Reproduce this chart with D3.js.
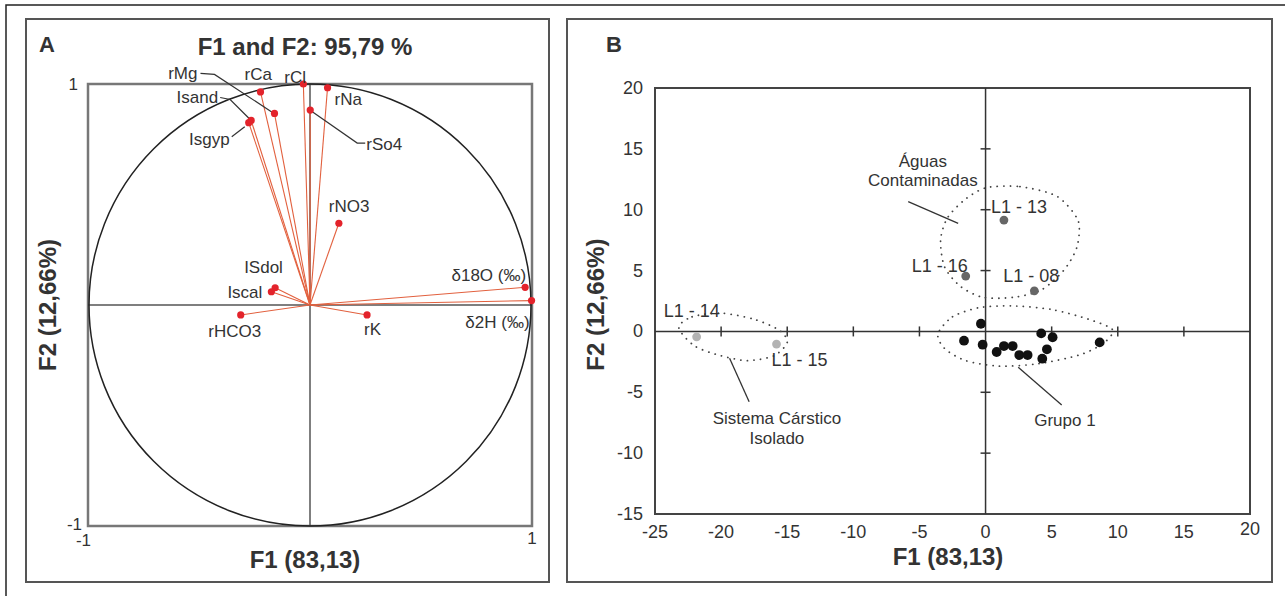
<!DOCTYPE html>
<html>
<head>
<meta charset="utf-8">
<script src="https://cdn.jsdelivr.net/npm/d3@7"></script>
<style>
	body { margin: 0; background: #fff; }
	text { font-family: "Liberation Sans", Arial, sans-serif; fill: #333; }
</style>
</head>
<body>
<div id="chart"></div>
<script>
// panel A: loadings on F1/F2
const varNames = ["rMg", "rCa", "rCl", "Isand", "Isgyp", "rNa", "rSo4", "rNO3", "ISdol", "Iscal", "δ18O (‰)", "δ2H (‰)", "rHCO3", "rK"];
const varF1 = [-0.16, -0.223, -0.03, -0.265, -0.276, 0.079, 0.001, 0.13, -0.157, -0.174, 0.969, 0.998, -0.312, 0.257];
const varF2 = [0.867, 0.964, 1.0, 0.835, 0.825, 0.983, 0.882, 0.37, 0.078, 0.06, 0.08, 0.02, -0.045, -0.045];
const aTicks = [-1, 1];

// panel B: sample scores
const grupo1F1 = [-0.35, -1.63, -0.22, 0.84, 1.39, 2.05, 2.55, 3.18, 4.21, 5.07, 4.64, 4.29, 8.63];
const grupo1F2 = [0.63, -0.76, -1.09, -1.69, -1.2, -1.2, -1.94, -1.94, -0.16, -0.48, -1.47, -2.24, -0.9];
const contamNames = ["L1 - 13", "L1 - 16", "L1 - 08"];
const contamF1 = [1.39, -1.5, 3.69];
const contamF2 = [9.15, 4.55, 3.34];
const carstNames = ["L1 - 14", "L1 - 15"];
const carstF1 = [-21.85, -15.81];
const carstF2 = [-0.44, -1.04];
const bXTicks = [-25, -20, -15, -10, -5, 0, 5, 10, 15, 20];
const bYTicks = [-15, -10, -5, 0, 5, 10, 15, 20];

// group outlines (F1, F2)
const aguasOutline = [[0.03, 11.8], [2.6, 11.9], [5.4, 11.1], [7.0, 9.1], [6.9, 6.9], [5.9, 5.0], [4.2, 3.4], [2.1, 2.8], [-0.2, 2.8], [-1.9, 3.7], [-3.1, 5.3], [-3.4, 7.5], [-2.9, 9.3], [-1.6, 10.8]];
const grupoOutline = [[-3.6, -0.2], [-2.5, 1.2], [-0.5, 1.95], [2.0, 2.1], [5.0, 1.8], [7.8, 1.0], [9.6, 0.15], [9.0, -0.9], [7.2, -1.9], [4.0, -2.65], [1.0, -2.85], [-1.5, -2.4], [-3.1, -1.4]];
const carstOutline = [[-23.2, 0.3], [-22.2, 1.2], [-20.0, 1.5], [-17.5, 1.0], [-15.6, 0.1], [-15.0, -0.9], [-16.0, -2.0], [-18.0, -2.4], [-20.0, -2.0], [-22.0, -1.2]];

const W = 1285, H = 596;

const svg = d3.select("#chart").append("svg").attr("width", W).attr("height", H);

// frames
svg.append("path").attr("d", `M6,${H + 5}V5H${W + 5}`).attr("fill", "none").attr("stroke", "#222").attr("stroke-width", 1.5);
svg.append("rect").attr("x", 26).attr("y", 19).attr("width", 523).attr("height", 563)
	.attr("fill", "none").attr("stroke", "#555").attr("stroke-width", 2);
svg.append("rect").attr("x", 567).attr("y", 19).attr("width", 705).attr("height", 563)
	.attr("fill", "none").attr("stroke", "#555").attr("stroke-width", 2);

// ---------- panel A ----------
const xA = d3.scaleLinear().domain([-1, 1]).range([88, 532]);
const yA = d3.scaleLinear().domain([-1, 1]).range([526, 84]);
const gA = svg.append("g");

gA.append("rect").attr("x", xA(-1)).attr("y", yA(1)).attr("width", xA(1) - xA(-1)).attr("height", yA(-1) - yA(1))
	.attr("fill", "none").attr("stroke", "#777").attr("stroke-width", 2.5);
gA.append("line").attr("x1", xA(-1)).attr("x2", xA(1)).attr("y1", yA(0)).attr("y2", yA(0)).attr("stroke", "#555").attr("stroke-width", 1.5);
gA.append("line").attr("x1", xA(0)).attr("x2", xA(0)).attr("y1", yA(1)).attr("y2", yA(-1)).attr("stroke", "#555").attr("stroke-width", 1.5);
gA.append("ellipse").attr("cx", xA(0)).attr("cy", yA(0))
	.attr("rx", xA(1) - xA(0) - 1).attr("ry", yA(-1) - yA(0))
	.attr("fill", "none").attr("stroke", "#222").attr("stroke-width", 1.5);

const loadings = varNames.map((n, i) => ({ name: n, x: varF1[i], y: varF2[i] }));

// label placement relative to each point: [dx, dy, anchor], plus optional leader
const aLabel = {
	"rMg": [-77, -34, "end", [[-74, -40], [-60, -39], [-2, -1]]],
	"rCa": [-16, -12, "start"],
	"rCl": [-19, -1, "start"],
	"Isand": [-33, -17, "end", [[-31, -23], [-21, -21], [-1, -1]]],
	"Isgyp": [-19, 22, "end", [[-17, 14], [-4, 4]]],
	"rNa": [7, 17, "start"],
	"rSo4": [56, 40, "start", [[1, 1], [47, 33], [55, 33]]],
	"rNO3": [-10, -11, "start"],
	"ISdol": [-31, -15, "start"],
	"Iscal": [-9, 6, "end"],
	"δ18O (‰)": [1, -6, "end"],
	"δ2H (‰)": [-2, 27, "end"],
	"rHCO3": [-6, 22, "middle"],
	"rK": [-3, 20, "start"]
};

gA.selectAll("line.vec").data(loadings).enter().append("line").attr("class", "vec")
	.attr("x1", xA(0)).attr("y1", yA(0))
	.attr("x2", (d) => xA(d.x)).attr("y2", (d) => yA(d.y))
	.attr("stroke", "#e2603e").attr("stroke-width", 1.1);

gA.selectAll("path.leader").data(loadings.filter((d) => aLabel[d.name][3])).enter().append("path").attr("class", "leader")
	.attr("d", (d) => d3.line()(aLabel[d.name][3].map((p) => [xA(d.x) + p[0], yA(d.y) + p[1]])))
	.attr("fill", "none").attr("stroke", "#333").attr("stroke-width", 1.2);

gA.selectAll("circle.pt").data(loadings).enter().append("circle").attr("class", "pt")
	.attr("cx", (d) => xA(d.x)).attr("cy", (d) => yA(d.y)).attr("r", 3.6).attr("fill", "#e3232b");

gA.selectAll("text.lab").data(loadings).enter().append("text").attr("class", "lab")
	.attr("x", (d) => xA(d.x) + aLabel[d.name][0])
	.attr("y", (d) => yA(d.y) + aLabel[d.name][1])
	.attr("text-anchor", (d) => aLabel[d.name][2])
	.style("font-size", "17px")
	.text((d) => d.name);

// ticks A
gA.append("text").attr("x", xA(-1) - 10).attr("y", yA(1) + 6).attr("text-anchor", "end").style("font-size", "17px").text(aTicks[1]);
gA.append("text").attr("x", xA(-1) - 6).attr("y", yA(-1) + 4).attr("text-anchor", "end").style("font-size", "17px").text(aTicks[0]);
gA.append("text").attr("x", xA(-1) + 3).attr("y", yA(-1) + 20).attr("text-anchor", "end").style("font-size", "17px").text(aTicks[0]);
gA.append("text").attr("x", xA(1)).attr("y", yA(-1) + 18).attr("text-anchor", "middle").style("font-size", "17px").text(aTicks[1]);

gA.append("text").attr("x", 39).attr("y", 52).style("font-size", "22px").style("font-weight", "bold").text("A");
gA.append("text").attr("x", 305).attr("y", 55).attr("text-anchor", "middle")
	.style("font-size", "24px").style("font-weight", "bold").text("F1 and F2: 95,79 %");
gA.append("text").attr("x", 305).attr("y", 568).attr("text-anchor", "middle")
	.style("font-size", "24px").style("font-weight", "bold").text("F1 (83,13)");
gA.append("text").attr("transform", `translate(56,${yA(0)}) rotate(-90)`).attr("text-anchor", "middle")
	.style("font-size", "24px").style("font-weight", "bold").text("F2 (12,66%)");

// ---------- panel B ----------
const xB = d3.scaleLinear().domain([-25, 20]).range([655, 1250]);
const yB = d3.scaleLinear().domain([-15, 20]).range([514, 88]);
const gB = svg.append("g");

gB.append("rect").attr("x", xB(-25)).attr("y", yB(20)).attr("width", xB(20) - xB(-25)).attr("height", yB(-15) - yB(20))
	.attr("fill", "none").attr("stroke", "#444").attr("stroke-width", 2);
gB.append("line").attr("x1", xB(-25)).attr("x2", xB(20)).attr("y1", yB(0)).attr("y2", yB(0)).attr("stroke", "#333").attr("stroke-width", 1.5);
gB.append("line").attr("x1", xB(0)).attr("x2", xB(0)).attr("y1", yB(20)).attr("y2", yB(-15)).attr("stroke", "#333").attr("stroke-width", 1.5);

// small crossing ticks on the zero axes
gB.selectAll("line.xt").data(bXTicks.filter((t) => t !== 0 && t > -25 && t < 20)).enter().append("line").attr("class", "xt")
	.attr("x1", (d) => xB(d)).attr("x2", (d) => xB(d)).attr("y1", yB(0) - 5).attr("y2", yB(0) + 5)
	.attr("stroke", "#333").attr("stroke-width", 1.5);
gB.selectAll("line.yt").data(bYTicks.filter((t) => t !== 0 && t > -15 && t < 20)).enter().append("line").attr("class", "yt")
	.attr("x1", xB(0) - 5).attr("x2", xB(0) + 5).attr("y1", (d) => yB(d)).attr("y2", (d) => yB(d))
	.attr("stroke", "#333").attr("stroke-width", 1.5);

gB.selectAll("text.xl").data(bXTicks).enter().append("text").attr("class", "xl")
	.attr("x", (d) => xB(d)).attr("y", (d) => (d === 20 ? yB(-15) + 21 : yB(-15) + 24))
	.attr("text-anchor", "middle").style("font-size", "18px").text((d) => d);
gB.selectAll("text.yl").data(bYTicks).enter().append("text").attr("class", "yl")
	.attr("x", xB(-25) - 12).attr("y", (d) => yB(d) + 6)
	.attr("text-anchor", "end").style("font-size", "18px").text((d) => d);

// group outlines
const outline = d3.line().x((d) => xB(d[0])).y((d) => yB(d[1])).curve(d3.curveCardinalClosed.tension(0.2));
[aguasOutline, grupoOutline, carstOutline].forEach((o) => {
	gB.append("path").attr("d", outline(o)).attr("fill", "none")
		.attr("stroke", "#444").attr("stroke-width", 1.8).attr("stroke-linecap", "round")
		.attr("stroke-dasharray", "0.1,6.5");
});

// annotation leaders
const leaders = [
	[[-5.85, 10.66], [-2.07, 8.88]],
	[[-19.36, -2.21], [-17.88, -5.78]],
	[[2.47, -2.95], [5.76, -6.05]]
];
gB.selectAll("path.ann").data(leaders).enter().append("path").attr("class", "ann")
	.attr("d", (d) => d3.line()(d.map((p) => [xB(p[0]), yB(p[1])])))
	.attr("stroke", "#333").attr("stroke-width", 1.3);

const groupText = [
	{ lines: ["Águas", "Contaminadas"], x: -4.74, y: 13.53 },
	{ lines: ["Sistema Cárstico", "Isolado"], x: -15.78, y: -7.61 },
	{ lines: ["Grupo 1"], x: 6.0, y: -7.77 }
];
groupText.forEach((g) => {
	const t = gB.append("text").attr("text-anchor", "middle").style("font-size", "17px");
	g.lines.forEach((l, i) => {
		t.append("tspan").attr("x", xB(g.x)).attr("y", yB(g.y) + i * 19.5).text(l);
	});
});

// points
const grupo1 = grupo1F1.map((v, i) => ({ x: v, y: grupo1F2[i] }));
const contam = contamNames.map((n, i) => ({ name: n, x: contamF1[i], y: contamF2[i] }));
const carst = carstNames.map((n, i) => ({ name: n, x: carstF1[i], y: carstF2[i] }));

gB.selectAll("circle.g1").data(grupo1).enter().append("circle").attr("class", "g1")
	.attr("cx", (d) => xB(d.x)).attr("cy", (d) => yB(d.y)).attr("r", 4.9).attr("fill", "#111");
gB.selectAll("circle.ct").data(contam).enter().append("circle").attr("class", "ct")
	.attr("cx", (d) => xB(d.x)).attr("cy", (d) => yB(d.y)).attr("r", 4.4).attr("fill", "#666");
gB.selectAll("circle.cs").data(carst).enter().append("circle").attr("class", "cs")
	.attr("cx", (d) => xB(d.x)).attr("cy", (d) => yB(d.y)).attr("r", 4.4).attr("fill", "#b3b3b3");

const bLabel = {
	"L1 - 13": [-13, -7, "start"],
	"L1 - 16": [2, -4, "end"],
	"L1 - 08": [-31, -9, "start"],
	"L1 - 14": [-33, -20, "start"],
	"L1 - 15": [-5, 22, "start"]
};
gB.selectAll("text.sl").data(contam.concat(carst)).enter().append("text").attr("class", "sl")
	.attr("x", (d) => xB(d.x) + bLabel[d.name][0])
	.attr("y", (d) => yB(d.y) + bLabel[d.name][1])
	.attr("text-anchor", (d) => bLabel[d.name][2])
	.style("font-size", "18px")
	.text((d) => d.name);

gB.append("text").attr("x", 606).attr("y", 52).style("font-size", "22px").style("font-weight", "bold").text("B");
gB.append("text").attr("x", 948).attr("y", 565).attr("text-anchor", "middle")
	.style("font-size", "24px").style("font-weight", "bold").text("F1 (83,13)");
gB.append("text").attr("transform", `translate(604,${yB(2.2)}) rotate(-90)`).attr("text-anchor", "middle")
	.style("font-size", "24px").style("font-weight", "bold").text("F2 (12,66%)");
</script>
</body>
</html>
